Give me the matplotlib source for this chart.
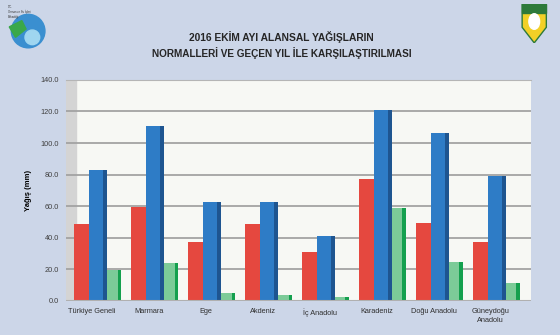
import numpy as np
import matplotlib.pyplot as plt
from matplotlib.patches import Circle, Rectangle, Polygon

# -------------------------
# Data
# -------------------------
regions = ["Türkiye Geneli", "Marmara", "Ege", "Akdeniz", "İç Anadolu",
           "Karadeniz", "Doğu Anadolu", "Güneydoğu\nAnadolu"]
rain_2016 = [48.8, 59.7, 37.6, 48.6, 31.2, 77.3, 49.6, 37.2]
rain_2015 = [83.0, 110.8, 62.5, 62.5, 41.4, 121.0, 106.2, 79.4]
normal = [19.6, 24.3, 4.9, 3.8, 2.7, 59.1, 24.9, 11.6]
yticks = [0, 20, 40, 60, 80, 100, 120, 140]

plt.rcParams['font.family'] = ['Liberation Sans', 'DejaVu Sans']

fig = plt.figure(figsize=(5.6, 3.35), dpi=100)
fig.patch.set_facecolor("#ccd6e8")
ax = fig.add_axes([0.118, 0.1015, 0.83, 0.66])
ax.set_facecolor("#f7f8f4")

x = np.arange(len(regions))
side = 0.06

# green (behind), then blue, then red
ax.bar(x + 0.355, normal, 0.32, color="#7ccb98", zorder=2)
ax.bar(x + 0.355 + 0.16 - side / 2, normal, side, color="#14a04e", zorder=2)
ax.bar(x + 0.11, rain_2015, 0.31, color="#2e7cc6", zorder=3)
ax.bar(x + 0.11 + 0.155 - side / 2, rain_2015, side, color="#1e5590", zorder=3)
ax.bar(x - 0.175, rain_2016, 0.26, color="#e5483f", zorder=4)

ax.set_xlim(-0.45, 7.71)
ax.set_ylim(0, 140)
ax.set_yticks(yticks)
ax.set_yticklabels([f"{v:.1f}" for v in yticks], fontsize=5.3, color="#404040")
ax.set_xticks(x)
ax.set_xticklabels(regions, fontsize=5.3, color="#303030", linespacing=1.4)
ax.tick_params(length=0, pad=5)
ax.yaxis.grid(True, color="#a3a3a3", linewidth=1.3, zorder=1)
for s in ax.spines.values():
    s.set_visible(False)
ax.spines["top"].set_visible(True)
ax.spines["top"].set_color("#b5b5b5")
ax.axhline(0, color="#b0b0b0", linewidth=1.5, zorder=5)
# left wall
ax.add_patch(Rectangle((0, 0), 0.0215, 1, transform=ax.transAxes,
                       color="#d4d4d4", zorder=0.5))
ax.set_ylabel("Yağış (mm)", fontsize=5.5, fontweight="bold", labelpad=6)

fig.text(0.503, 0.889, "2016 EKİM AYI ALANSAL YAĞIŞLARIN", ha="center",
         va="center", fontsize=7.4, fontweight="bold", color="#262626")
fig.text(0.503, 0.843, "NORMALLERİ VE GEÇEN YIL İLE KARŞILAŞTIRILMASI", ha="center",
         va="center", fontsize=7.2, fontweight="bold", color="#262626")

# simple logo placeholders
logo = fig.add_axes([0.009, 0.851, 0.075, 0.125])
logo.set_xlim(-1, 1)
logo.set_ylim(-1, 1)
logo.axis("off")
logo.add_patch(Circle((0.1, -0.1), 0.8, color="#3a8fd0"))
logo.add_patch(Circle((0.3, -0.4), 0.35, color="#9fd6f0"))
logo.add_patch(Polygon([[-0.8, 0.1], [-0.2, 0.4], [0.0, 0.0], [-0.5, -0.4]],
                       color="#3aa84a"))
fig.text(0.014, 0.985, "T.C.\nOrman ve Su İşleri\nBakanlığı", fontsize=2,
         va="top", color="#333333")

shield = fig.add_axes([0.930, 0.872, 0.048, 0.116])
shield.axis("off")
shield.set_xlim(0, 1)
shield.set_ylim(0, 1)
shield.add_patch(Polygon([[0.05, 1], [0.95, 1], [0.95, 0.4], [0.5, 0.0], [0.05, 0.4]],
                         facecolor="#f2d027", edgecolor="#2d7a3a", linewidth=1))
shield.add_patch(Rectangle((0.05, 0.78), 0.9, 0.22, color="#2d7a3a"))
shield.add_patch(Circle((0.5, 0.55), 0.2, color="#ffffff"))

fig.savefig("out.png", dpi=100, facecolor=fig.get_facecolor())
